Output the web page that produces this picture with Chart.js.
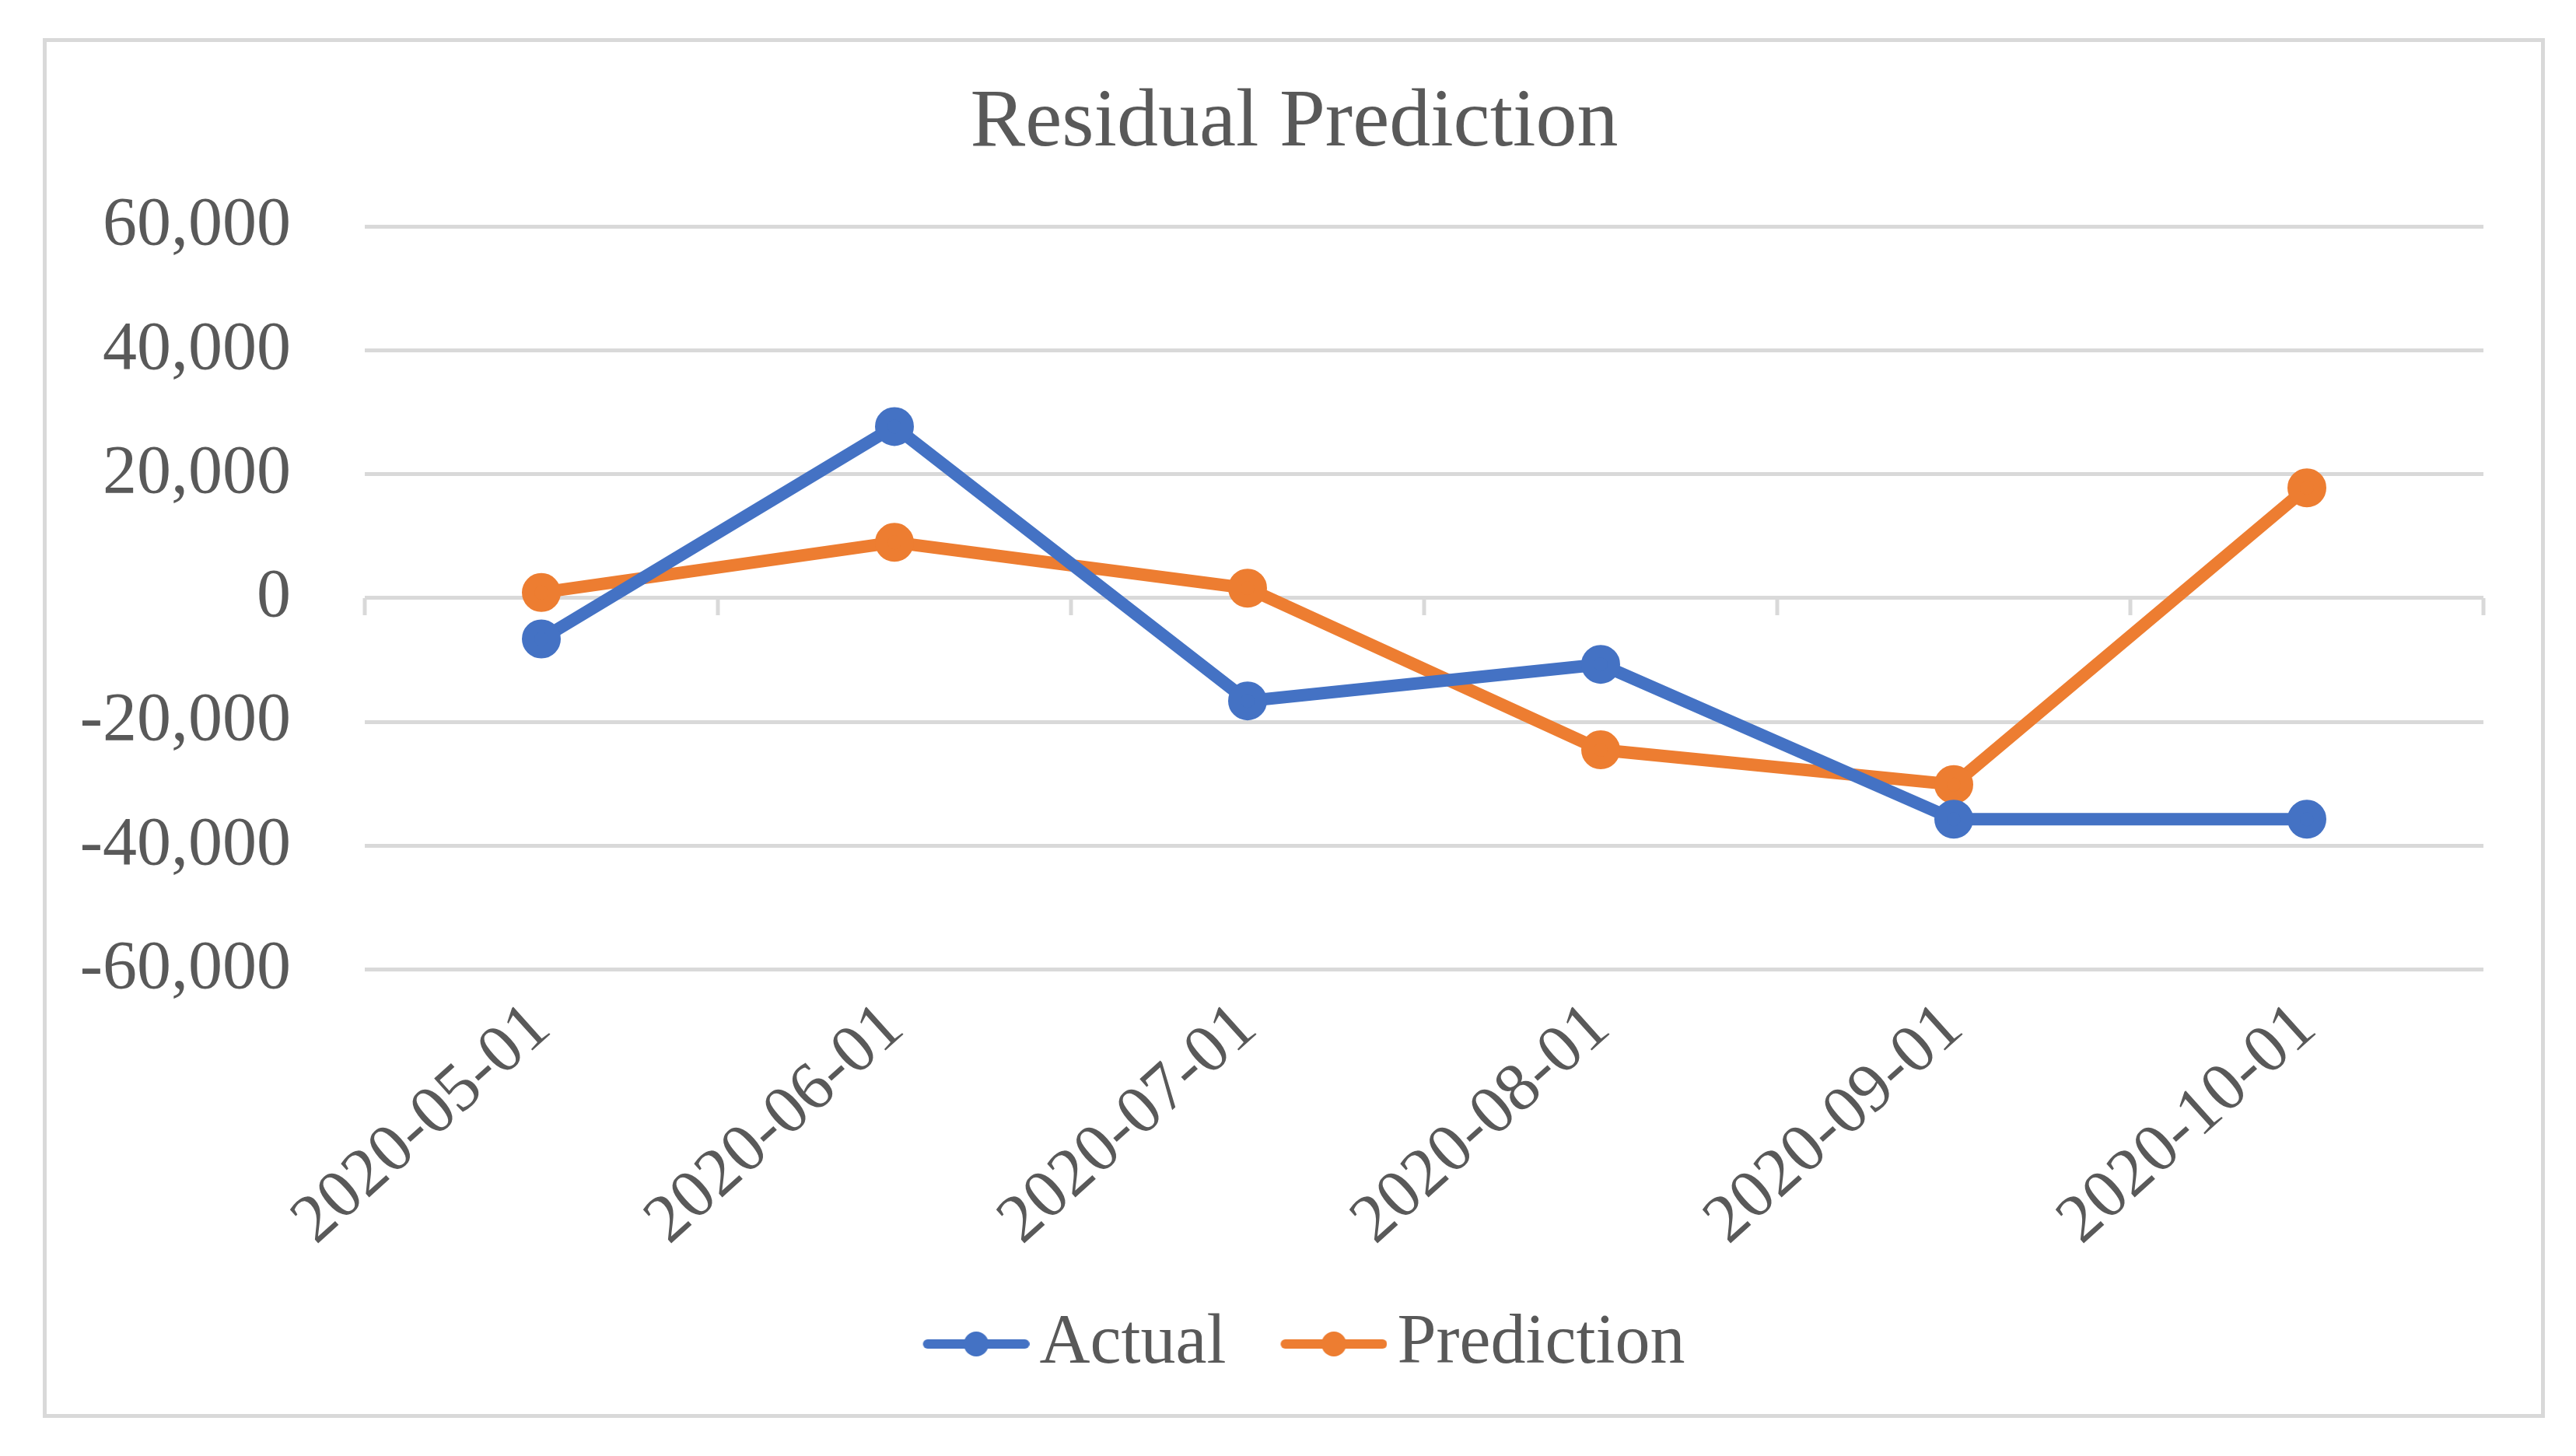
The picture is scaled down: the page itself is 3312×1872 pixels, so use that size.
<!DOCTYPE html>
<html>
<head>
<meta charset="utf-8">
<script src="https://cdn.jsdelivr.net/npm/chart.js@4.4.1/dist/chart.umd.min.js"></script>
<style>
  html, body { margin: 0; padding: 0; background: #fff; }
  #box {
    position: absolute; left: 55px; top: 49px;
    width: 3217px; height: 1774px;
    box-sizing: border-box; border: 5px solid #d9d9d9;
  }
  #box canvas { display: block; }
</style>
</head>
<body>
<div id="box"><canvas id="myChart" width="3207" height="1764"></canvas></div>
<script>
const labels = ['2020-05-01', '2020-06-01', '2020-07-01', '2020-08-01', '2020-09-01', '2020-10-01'];
const actual = [-6600, 27700, -16600, -10700, -35700, -35700];
const prediction = [900, 9000, 1600, -24500, -30100, 17800];
const yTicks = [-60000, -40000, -20000, 0, 20000, 40000, 60000];

const blue = '#4472C4';
const orange = '#ED7D31';
const grid = '#d9d9d9';
const txt = '#595959';
const fam = "'Liberation Serif', 'Times New Roman', serif";

// legend marker: line with dot, like excel
// the canvas has an empty strip on the left so the visible part sits close to the text
function marker(color) {
    const c = document.createElement('canvas');
    const off = 57;
    c.width = off + 137; c.height = 36;
    const g = c.getContext('2d');
    g.strokeStyle = color;
    g.lineWidth = 12;
    g.lineCap = 'round';
    g.beginPath(); g.moveTo(off + 6, 18); g.lineTo(off + 131, 18); g.stroke();
    g.fillStyle = color;
    g.beginPath(); g.arc(off + 68.5, 18, 16, 0, Math.PI * 2); g.fill();
    return c;
}

// small tick marks on the zero line between categories
const zeroTicks = {
    id: 'zeroTicks',
    afterLayout(chart) {
        // y labels are wider than the axis box, don't let them get clipped
        chart.scales.y.left -= 60;
    },
    beforeDatasetsDraw(chart) {
        const ctx = chart.ctx;
        const x = chart.scales.x;
        const y0 = chart.scales.y.getPixelForValue(0);
        const w = (x.right - x.left) / labels.length;
        ctx.save();
        ctx.strokeStyle = grid;
        ctx.lineWidth = 5;
        for (let i = 0; i <= labels.length; i++) {
            const px = x.left + i * w;
            ctx.beginPath(); ctx.moveTo(px, y0); ctx.lineTo(px, y0 + 22); ctx.stroke();
        }
        ctx.restore();
    }
};

const data = {
    labels: labels,
    datasets: [{
        label: 'Actual',
        data: actual,
        borderColor: blue,
        backgroundColor: blue,
        borderWidth: 16,
        pointRadius: 17,
        pointStyle: 'circle',
        legendMarker: marker(blue)
    }, {
        label: 'Prediction',
        data: prediction,
        borderColor: orange,
        backgroundColor: orange,
        borderWidth: 16,
        pointRadius: 17,
        pointStyle: 'circle',
        legendMarker: marker(orange)
    }]
};

const options = {
    responsive: false,
    animation: false,
    events: [],
    layout: { padding: { left: 75, right: 74, top: 0, bottom: 35 } },
    plugins: {
        title: {
            display: true,
            text: 'Residual Prediction',
            color: txt,
            font: { family: fam, size: 106, weight: 'normal' },
            padding: { top: 42, bottom: 68 }
        },
        legend: {
            position: 'bottom',
            labels: {
                color: txt,
                font: { family: fam, size: 90 },
                usePointStyle: true,
                pointStyleWidth: 130,
                padding: 45,
                generateLabels(chart) {
                    return chart.data.datasets.map((ds, i) => ({
                        text: ds.label,
                        fontColor: txt,
                        pointStyle: ds.legendMarker,
                        fillStyle: ds.borderColor,
                        strokeStyle: ds.borderColor,
                        lineWidth: 0,
                        datasetIndex: i
                    }));
                }
            }
        },
        tooltip: { enabled: false }
    },
    scales: {
        x: {
            offset: true,
            grid: { display: false },
            border: { display: false },
            ticks: {
                color: txt,
                font: { family: fam, size: 88 },
                minRotation: 42,
                maxRotation: 42,
                padding: 15
            }
        },
        y: {
            min: -60000,
            max: 60000,
            afterBuildTicks(scale) { scale.ticks = yTicks.map(v => ({ value: v })); },
            afterFit(scale) { scale.width = 334; },
            grid: { color: grid, lineWidth: 5, drawTicks: false },
            border: { display: false },
            ticks: {
                color: txt,
                font: { family: fam, size: 88 },
                padding: 95,
                callback: v => v.toLocaleString('en-US')
            }
        }
    }
};

const config = { type: 'line', data: data, options: options, plugins: [zeroTicks] };
const myChart = new Chart(document.getElementById('myChart'), config);
</script>
</body>
</html>
